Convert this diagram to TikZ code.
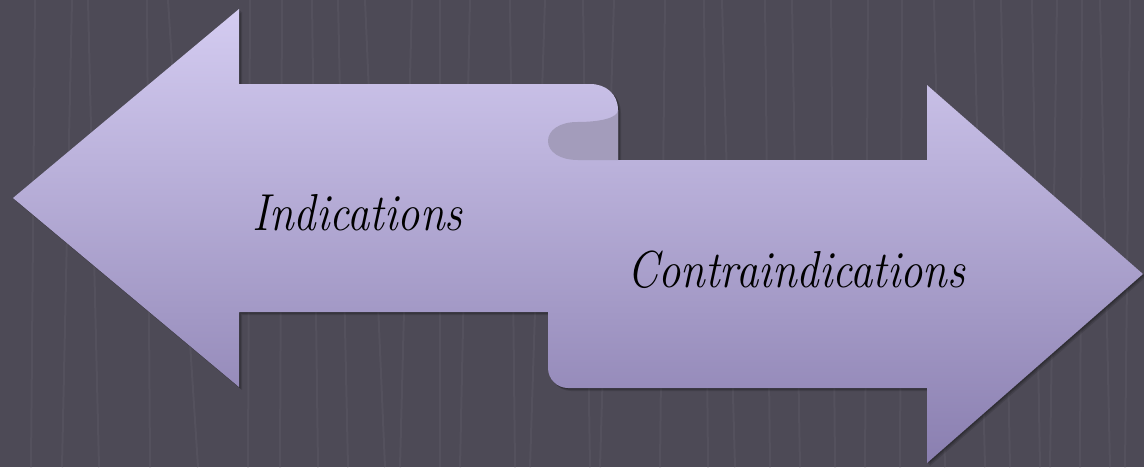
\documentclass[tikz,border=0pt]{standalone}
\usepackage{fontspec}
\setmainfont{Latin Modern Roman}
\begin{document}
\begin{tikzpicture}[x=1pt,y=-1pt,
  bgline/.style={draw=bgstripe,line width=2pt},
  lbl/.style={inner sep=0pt,anchor=base west,font=\fontsize{52}{56}\selectfont\itshape,text=black}]
\definecolor{bgcol}{HTML}{4D4A56}
\definecolor{bgstripe}{HTML}{54515D}
\definecolor{ribtop}{HTML}{D4CCF1}
\definecolor{ribbot}{HTML}{8A7FB0}
\definecolor{ribback}{HTML}{A39CBB}
\useasboundingbox (0,0) rectangle (1144,467);
\fill[bgcol] (0,0) rectangle (1144,467);
% background stripes
\foreach \a/\b in {35/31,72/62,88/99,147/150,168/198,250/248,282/280,312/318,338/348,365/385,412/400,440/440,470/460,510/515,545/530,583/590,614/600,665/660,704/708,722/735,765/770,792/800,831/835,868/865,902/900,934/945,974/985,1001/1010,1032/1040,1057/1050,1082/1080,1100/1110,1130/1125}
  \draw[bgline] (\a,0) -- (\b,467);
% shadow
\foreach \s/\o in {3/0.12,2/0.15,1/0.18}
\fill[black,opacity=\o,shift={(\s,\s)}]
  (13,198) -- (239,9) -- (239,84) -- (590,84)
  .. controls (606,84) and (618,94) .. (618,110) -- (618,160)
  -- (927,160) -- (927,85) -- (1143,274) -- (927,463) -- (927,388)
  -- (568,388) .. controls (557,388) and (548,379) .. (548,368)
  -- (548,312) -- (239,312) -- (239,387) -- cycle;
% ribbon
\path[top color=ribtop,bottom color=ribbot]
  (13,198) -- (239,9) -- (239,84) -- (590,84)
  .. controls (606,84) and (618,94) .. (618,110) -- (618,160)
  -- (927,160) -- (927,85) -- (1143,274) -- (927,463) -- (927,388)
  -- (568,388) .. controls (557,388) and (548,379) .. (548,368)
  -- (548,312) -- (239,312) -- (239,387) -- cycle;
% back of the curl
\fill[ribback]
  (618,110) .. controls (618,118) and (600,122) .. (577,122)
  .. controls (560,122) and (548,130) .. (548,141)
  .. controls (548,152) and (560,160) .. (578,160)
  -- (618,160) -- cycle;
\node[lbl] (ind) at (252,230) {\scalebox{0.86}[1]{Indications}};
\node[lbl] (contra) at (627,287) {\scalebox{0.86}[1]{Contraindications}};
\end{tikzpicture}
\end{document}
